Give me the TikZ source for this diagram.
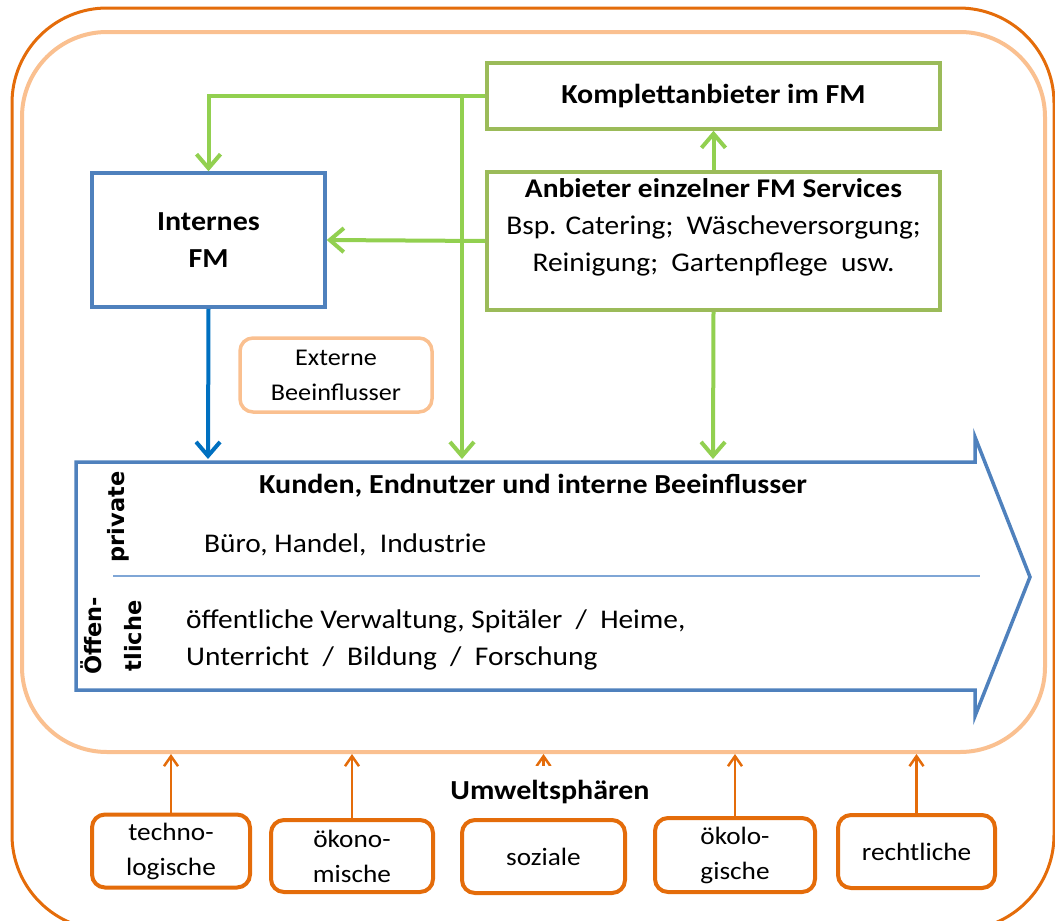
\documentclass[tikz,border=0pt]{standalone}
\usepackage{fontspec}
\setmainfont{Carlito}[FakeStretch=1.09]
\newfontfamily\rotfont{DejaVu Sans}
\usetikzlibrary{arrows.meta}
\definecolor{orng}{HTML}{E46C0A}
\definecolor{peach}{HTML}{FAC090}
\definecolor{gbox}{HTML}{9BBB59}
\definecolor{garr}{HTML}{92D050}
\definecolor{bbox}{HTML}{4F81BD}
\definecolor{barr}{HTML}{0070C0}
\definecolor{sepline}{HTML}{7FA6D6}
\tikzset{
  body/.style={font=\fontsize{27}{37}\selectfont, inner sep=0pt},
  bodybf/.style={font=\fontsize{27.5}{37}\bfseries\selectfont, inner sep=0pt},
  small/.style={font=\fontsize{25}{35}\selectfont, inner sep=0pt, align=center},
  rot/.style={font=\fontsize{22.5}{40}\rotfont\bfseries\selectfont, inner sep=0pt, rotate=90, align=center},
  gboxs/.style={draw=gbox, line width=3.5pt, minimum width=453pt, inner sep=0pt},
  bboxs/.style={draw=bbox, line width=3.5pt, inner sep=0pt, align=center},
  obox/.style={draw=orng, line width=4pt, rounded corners=13pt, inner sep=0pt, fill=white},
  garrow/.style={draw=garr, line width=4pt, -{Straight Barb[length=14pt,width=24pt,line width=4pt]}},
  barrow/.style={draw=barr, line width=4pt, -{Straight Barb[length=14pt,width=24pt,line width=4pt]}},
  oarrow/.style={draw=orng, line width=2.5pt, -{Straight Barb[length=10pt,width=14pt,line width=2.5pt]}},
}
\begin{document}
\begin{tikzpicture}[x=1pt,y=-1pt]
\useasboundingbox (0,0) rectangle (1055,921);
\begin{scope}
\clip (0,0) rectangle (1055,921);
% outer and inner frames
\draw[orng, line width=3pt, rounded corners=95pt] (12,8) rectangle (1054,930);
\draw[peach, line width=4pt, rounded corners=85pt] (22,32) rectangle (1045,752);
\end{scope}
\coordinate (ib) at (0,754);

% boxes
\node[gboxs, minimum height=66pt, bodybf] (komp) at (713.5,96) {Komplettanbieter im FM};
\node[gboxs, minimum height=138pt] (anb) at (713.5,241) {};
\node[body, align=center] (anbtxt) at (713.5,227) {\textbf{Anbieter einzelner FM Services}\\Bsp. Catering;~ W\"ascheversorgung;\\Reinigung;~ Gartenpflege~ usw.};
\node[bboxs, minimum width=233pt, minimum height=134pt, bodybf] (intern) at (208.5,240) {Internes\\FM};
\node[draw=peach, line width=3.5pt, rounded corners=13pt, minimum width=192pt, minimum height=74pt, small, font=\fontsize{24}{35}\selectfont] (ext) at (336,375) {Externe\\Beeinflusser};

% big chevron
\draw[bbox, line width=3.5pt, line join=miter] (76,462) -- (975,462) -- (975,437) -- (1030,577) -- (975,716) -- (975,690) -- (76,690) -- cycle;
\coordinate (k1) at (208,459);
\coordinate (k2) at (462,459);
\coordinate (k3) at (713,459);
\coordinate (s1) at (113,576);
\coordinate (s2) at (980,576);
\draw[sepline, line width=1.5pt] (s1) -- (s2);
\node[bodybf] (title) at (533,486) {Kunden, Endnutzer und interne Beeinflusser};
\node[rot] (priv) at (118,517) {private};
\node[rot] (oeff) at (111,636) {\"Offen-\\tliche};
\node[body, anchor=west] (buero) at (204,545) {B\"uro, Handel,~ Industrie};
\node[body, anchor=west, align=left] (oefftxt) at (186,640) {\"offentliche Verwaltung, Spit\"aler~ /~ Heime,\\Unterricht~ /~ Bildung~ /~ Forschung};

% connectors
\draw[garrow] (komp.west) -| (intern.north);
\draw[garrow] (komp.west -| k2) -- (k2);
\draw[garrow] (anb.north) -- (komp.south);
\draw[garrow] (anb.west) -- (intern.east);
\draw[garrow] (anb.south) -- (k3);
\draw[barrow] (intern.south) -- (k1);

% bottom boxes
\node[obox, minimum width=158pt, minimum height=73pt, small] (b1) at (171,851) {techno-\\logische};
\node[obox, minimum width=162pt, minimum height=72pt, small] (b2) at (352,856) {\"okono-\\mische};
\node[obox, minimum width=163pt, minimum height=73pt, small] (b3) at (543.5,856.5) {soziale};
\node[obox, minimum width=160pt, minimum height=74pt, small] (b4) at (735,855) {\"okolo-\\gische};
\node[obox, minimum width=157pt, minimum height=73pt, small] (b5) at (916.5,851.5) {rechtliche};
\draw[oarrow] (b1.north) -- (b1.north |- ib);
\draw[oarrow] (b2.north) -- (b2.north |- ib);
\draw[oarrow] (b3.north) -- (b3.north |- ib);
\draw[oarrow] (b4.north) -- (b4.north |- ib);
\draw[oarrow] (b5.north) -- (b5.north |- ib);
\node[fill=white, minimum height=52pt, inner sep=0pt, font=\fontsize{27.5}{35}\bfseries\selectfont] (umw) at (550,792) {Umweltsph\"aren};
\end{tikzpicture}
\end{document}
